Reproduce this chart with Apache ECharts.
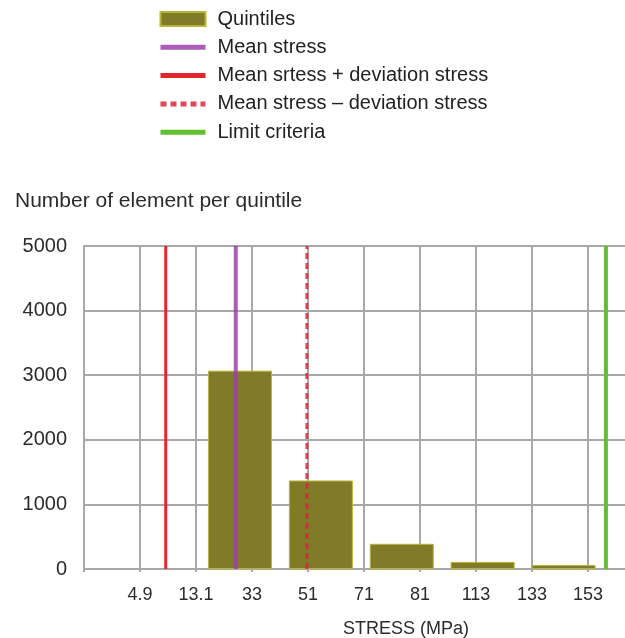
<!DOCTYPE html>
<html>
<head>
<meta charset="utf-8">
<script src="https://cdn.jsdelivr.net/npm/echarts@6/dist/echarts.min.js"></script>
<style>
  html, body { margin: 0; padding: 0; background: #fff; }
  #chart { width: 625px; height: 638px; }
</style>
</head>
<body>
<div id="chart"></div>
<script>
// x tick labels (stress, MPa) sit on slots 1..9 of the x axis
const stressLabels = ['4.9', '13.1', '33', '51', '71', '81', '113', '133', '153'];
// quintile bars
const quintileNames = ['Q1', 'Q2', 'Q3', 'Q4', 'Q5'];
const quintileCounts = [3070, 1370, 390, 110, 60];
// vertical reference lines, position in x-axis slot units
const meanStress = [2.71];
const meanPlusDev = [1.46];
const meanMinusDev = [3.98];
const limitCriteria = [9.32];

const yMax = 5000;
const font = 'Liberation Sans, Arial, sans-serif';
const textColor = '#2b2b2b';
const gridColor = '#a8a8a8';

function vline(pos) {
  return [[pos[0], 0], [pos[0], yMax]];
}

// legend entry for a line series: hide the marker, keep a thick line
function lineLegend(name) {
  return { name: name, itemStyle: { opacity: 0 }, lineStyle: { width: 5 } };
}

let myChart = echarts.init(document.getElementById('chart'));
let option = {
  animation: false,
  textStyle: { fontFamily: font },
  title: {
    text: 'Number of element per quintile',
    left: 10,
    top: 186,
    textStyle: { fontFamily: font, fontSize: 21, fontWeight: 'normal', color: textColor }
  },
  legend: {
    orient: 'vertical',
    left: 153,
    top: 4,
    itemWidth: 45,
    itemHeight: 14,
    itemGap: 8.3,
    textStyle: { fontFamily: font, fontSize: 20, color: '#222', lineHeight: 20, padding: [0, 0, 0, 7] },
    data: [
      { name: 'Quintiles', icon: 'rect' },
      lineLegend('Mean stress'),
      lineLegend('Mean srtess + deviation stress'),
      lineLegend('Mean stress \u2013 deviation stress'),
      lineLegend('Limit criteria')
    ]
  },
  grid: [
    { left: 84, top: 246, width: 560, height: 323, outerBoundsMode: 'none' },
    { left: 199.5, top: 246, width: 404.5, height: 323, outerBoundsMode: 'none' }
  ],
  xAxis: [
    {
      type: 'value',
      gridIndex: 0,
      min: 0,
      max: 10,
      interval: 1,
      name: 'STRESS (MPa)',
      nameLocation: 'middle',
      nameGap: 51,
      nameTextStyle: { fontFamily: font, fontSize: 18, color: textColor, padding: [0, 0, 0, 84] },
      axisLine: { show: true, lineStyle: { color: gridColor, width: 2 } },
      axisTick: { show: true, length: 3, lineStyle: { color: gridColor, width: 2 } },
      axisLabel: {
        margin: 17,
        fontFamily: font,
        fontSize: 18,
        color: textColor,
        formatter: v => stressLabels[v - 1] || ''
      },
      splitLine: { show: true, lineStyle: { color: gridColor, width: 2 } }
    },
    {
      type: 'category',
      gridIndex: 1,
      data: quintileNames,
      show: false
    }
  ],
  yAxis: [
    {
      type: 'value',
      gridIndex: 0,
      min: 0,
      max: yMax,
      interval: 1000,
      axisLine: { show: true, lineStyle: { color: gridColor, width: 2 } },
      axisTick: { show: false },
      axisLabel: {
        margin: 17,
        fontFamily: font,
        fontSize: 20,
        color: textColor,
        padding: [0, 0, 10, 0],
        formatter: v => String(v)
      },
      splitLine: { show: true, lineStyle: { color: gridColor, width: 2 } }
    },
    {
      type: 'value',
      gridIndex: 1,
      min: 0,
      max: yMax,
      show: false,
      splitLine: { show: false }
    }
  ],
  series: [
    {
      name: 'Quintiles',
      type: 'bar',
      xAxisIndex: 1,
      yAxisIndex: 1,
      data: quintileCounts,
      barWidth: 64,
      itemStyle: { color: '#7f7b29', borderColor: '#b9b436', borderWidth: 1 },
      z: 2
    },
    {
      name: 'Mean stress',
      type: 'line',
      data: vline(meanStress),
      symbol: 'none',
      lineStyle: { color: '#9c3fa8', width: 4, opacity: 0.85 },
      itemStyle: { color: '#9c3fa8' },
      z: 5
    },
    {
      name: 'Mean srtess + deviation stress',
      type: 'line',
      data: vline(meanPlusDev),
      symbol: 'none',
      lineStyle: { color: '#e2262c', width: 3 },
      itemStyle: { color: '#e2262c' },
      z: 5
    },
    {
      name: 'Mean stress \u2013 deviation stress',
      type: 'line',
      data: vline(meanMinusDev),
      symbol: 'none',
      lineStyle: { color: '#d8283a', width: 3, type: [6, 4], opacity: 0.85 },
      itemStyle: { color: '#d8283a' },
      z: 5
    },
    {
      name: 'Limit criteria',
      type: 'line',
      data: vline(limitCriteria),
      symbol: 'none',
      lineStyle: { color: '#62c030', width: 4 },
      itemStyle: { color: '#62c030' },
      z: 5
    }
  ]
};
myChart.setOption(option);
</script>
</body>
</html>
